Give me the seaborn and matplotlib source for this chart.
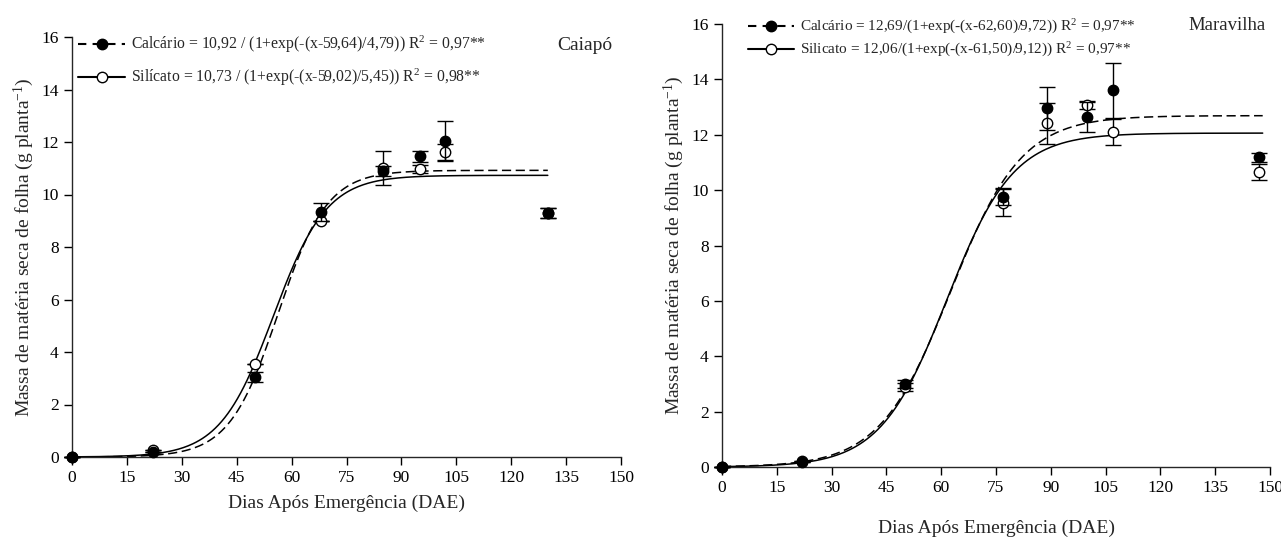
import numpy as np
import pandas as pd
import seaborn as sns
import matplotlib.pyplot as plt
from matplotlib.lines import Line2D

# ---- data ----
# Caiapó
cai_x = [0, 22, 50, 68, 85, 95, 102, 130]
cai_calc = [0, 0.2, 3.05, 9.32, 10.9, 11.45, 12.03, 9.3]
cai_calc_err = [0, 0, 0.2, 0.34, 0.2, 0.2, 0.77, 0.18]
cai_sil = [0, 0.25, 3.55, 8.98, 11.0, 10.97, 11.63, 9.3]
cai_sil_err = [0, 0, 0, 0, 0.65, 0.15, 0.3, 0.18]
# curve params (a, x0, b) as drawn
cai_calc_fit = (10.92, 56.3, 6.7)
cai_sil_fit = (10.73, 55.0, 7.3)

# Maravilha
mar_x = [0, 22, 50, 77, 89, 100, 107, 147]
mar_calc = [0, 0.18, 3.0, 9.76, 12.95, 12.65, 13.6, 11.18]
mar_calc_err = [0, 0, 0.15, 0.3, 0.78, 0.55, 1.0, 0.17]
mar_sil = [0, 0.2, 2.9, 9.55, 12.41, 13.07, 12.1, 10.66]
mar_sil_err = [0, 0, 0.15, 0.5, 0.75, 0.15, 0.47, 0.3]
mar_calc_fit = (12.69, 62.60, 9.72)
mar_sil_fit = (12.06, 61.50, 9.12)

cai_labels = [r"Calcário = 10,92 / (1+exp(-(x-59,64)/4,79)) R$^\mathregular{2}$ = 0,97**",
              r"Silícato = 10,73 / (1+exp(-(x-59,02)/5,45)) R$^\mathregular{2}$ = 0,98**"]
mar_labels = [r"Calcário = 12,69/(1+exp(-(x-62,60)/9,72)) R$^\mathregular{2}$ = 0,97**",
              r"Silicato = 12,06/(1+exp(-(x-61,50)/9,12)) R$^\mathregular{2}$ = 0,97**"]

sns.set_style("ticks")
plt.rcParams['font.family'] = ['Liberation Serif', 'DejaVu Serif']
plt.rcParams['mathtext.fontset'] = 'custom'
plt.rcParams['mathtext.rm'] = 'Liberation Serif'
plt.rcParams['mathtext.it'] = 'Liberation Serif:italic'
plt.rcParams['axes.linewidth'] = 1.0

fig = plt.figure(figsize=(12.81, 5.39), dpi=100)
ax1 = fig.add_axes([72/1281, 1-457/539, 549/1281, 420/539])
ax2 = fig.add_axes([722/1281, 1-467/539, 548/1281, 443/539])


def logistic(x, p):
    a, x0, b = p
    return a / (1 + np.exp(-(x - x0) / b))


def panel(ax, x, calc, calc_err, sil, sil_err, fit_c, fit_s, xend, labels, name, name_xy, name_fs,
          leg_xy, fs, lspace):
    xs = np.linspace(0, xend, 300)
    curves = pd.concat([
        pd.DataFrame({'x': xs, 'y': logistic(xs, fit_c), 'trat': 'Calcário'}),
        pd.DataFrame({'x': xs, 'y': logistic(xs, fit_s), 'trat': 'Silicato'}),
    ])
    sns.lineplot(data=curves, x='x', y='y', style='trat', dashes=[(6, 3), ''],
                 color='black', linewidth=1.1, legend=False, ax=ax)
    ax.errorbar(x, sil, yerr=sil_err, fmt='o', mfc='white', mec='black', ecolor='black',
                ms=7.5, capsize=6, elinewidth=1, capthick=1, clip_on=False, zorder=3)
    ax.errorbar(x, calc, yerr=calc_err, fmt='o', mfc='black', mec='black', ecolor='black',
                ms=7.5, capsize=6, elinewidth=1, capthick=1, clip_on=False, zorder=4)
    ax.set_xlim(0, 150)
    ax.set_ylim(0, 16)
    ax.set_xticks(range(0, 151, 15))
    ax.set_yticks(range(0, 17, 2))
    ax.tick_params(direction='out', length=6, width=1, labelsize=12.5, colors='black')
    sns.despine(ax=ax)
    ax.set_xlabel('Dias Após Emergência (DAE)', fontsize=14)
    ax.set_ylabel(r'Massa de matéria seca de folha (g planta$^\mathregular{-1}$)', fontsize=14)
    handles = [Line2D([], [], color='black', ls=(0, (4, 3)), marker='o', mfc='black', mec='black', ms=7.5),
               Line2D([], [], color='black', ls='-', marker='o', mfc='white', mec='black', ms=7.5)]
    ax.legend(handles, labels, loc='upper left', bbox_to_anchor=leg_xy, bbox_transform=fig.transFigure,
              frameon=False, fontsize=fs, handlelength=3, handletextpad=0.4, labelspacing=lspace,
              borderaxespad=0, borderpad=0)
    fig.text(name_xy[0] / 1281, 1 - name_xy[1] / 539, name, ha='center', va='center', fontsize=name_fs)


panel(ax1, cai_x, cai_calc, cai_calc_err, cai_sil, cai_sil_err, cai_calc_fit, cai_sil_fit, 130,
      cai_labels, 'Caiapó', (585, 46), 14, (78/1281, 1 - 34/539), 11.3, 0.75)
panel(ax2, mar_x, mar_calc, mar_calc_err, mar_sil, mar_sil_err, mar_calc_fit, mar_sil_fit, 148,
      mar_labels, 'Maravilha', (1227, 26), 13.5, (748/1281, 1 - 18/539), 11, 0.3)
ax1.xaxis.labelpad = 6
ax2.xaxis.labelpad = 17

fig.savefig('out.png', dpi=100)
